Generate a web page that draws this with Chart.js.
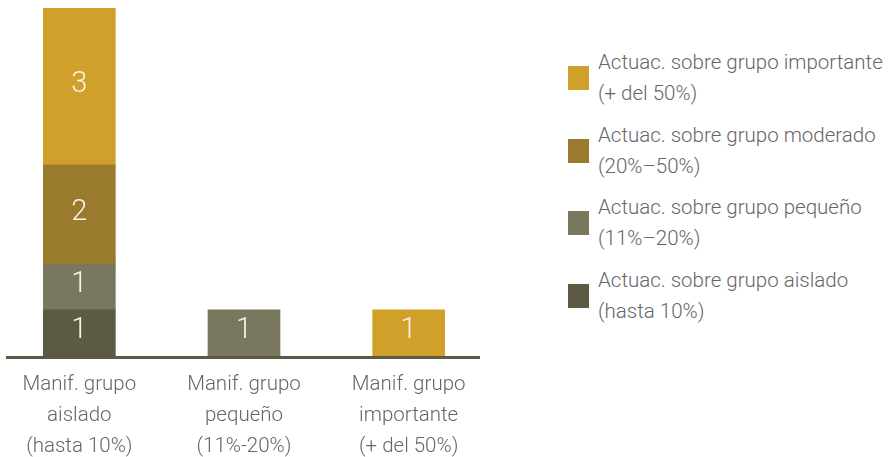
<!DOCTYPE html>
<html><head><meta charset="utf-8">
<script src="https://cdn.jsdelivr.net/npm/chart.js@4"></script>
<style>
html,body{margin:0;padding:0;background:#fff;width:888px;height:457px;overflow:hidden;position:relative;font-family:Roboto,sans-serif;}
#wrap{position:absolute;left:-3px;top:0;width:494px;height:457px;}
#legend{position:absolute;left:568px;top:54px;}
.item{position:relative;height:72.5px;}
.box{position:absolute;left:0;width:21px;height:24px;top:12px;}
.txt{position:absolute;left:30px;top:-7px;font-size:20.5px;line-height:31px;color:#666666;font-weight:300;white-space:nowrap;}
</style></head>
<body>
<div id="wrap"><canvas id="c"></canvas></div>
<div id="legend"></div>
<script>
const categories = [["Manif. grupo","aislado","(hasta 10%)"],["Manif. grupo","pequeño","(11%-20%)"],["Manif. grupo","importante","(+ del 50%)"]];
const seriesNames = [["Actuac. sobre grupo aislado","(hasta 10%)"],["Actuac. sobre grupo pequeño","(11%–20%)"],["Actuac. sobre grupo moderado","(20%–50%)"],["Actuac. sobre grupo importante","(+ del 50%)"]];
const aislado = [1, null, null];
const pequeno = [1, 1, null];
const moderado = [2.15, null, null];
const importante = [3.4, null, 1];
const colors = ["#5c5945","#7a775f","#9a7a2c","#d0a02a"];
const seriesValues = [aislado, pequeno, moderado, importante];

const labelPlugin = {
  id:'segLabels',
  afterDatasetsDraw(chart){
    const ctx = chart.ctx;
    ctx.save();
    ctx.fillStyle = '#f7f3e6';
    ctx.font = '300 29px Roboto, sans-serif';
    ctx.textAlign = 'center'; ctx.textBaseline = 'middle';
    chart.data.datasets.forEach((ds,i)=>{
      chart.getDatasetMeta(i).data.forEach((el,j)=>{
        const v = ds.data[j];
        if(v==null) return;
        const y = (el.y + el.base)/2;
        ctx.fillText(String(Math.round(v)), el.x, y-2);
      });
    });
    ctx.restore();
  }
};
const axisPlugin = {
  id:'axisLine',
  afterDatasetsDraw(chart){
    const ctx = chart.ctx, a = chart.chartArea;
    const y = chart.scales.y.getPixelForValue(0);
    ctx.save();
    ctx.fillStyle = '#5c5945';
    ctx.fillRect(a.left+9, y, (a.right-11)-(a.left+9), 3);
    ctx.restore();
  }
};

new Chart(document.getElementById('c'), {
  type:'bar',
  data:{
    labels:categories,
    datasets: seriesValues.map((d,i)=>({label:seriesNames[i].join(' '), data:d, backgroundColor:colors[i], barThickness:72, borderWidth:0}))
  },
  options:{
    responsive:true, maintainAspectRatio:false, animation:false,
    layout:{padding:{top:6,left:0,right:0,bottom:0}},
    plugins:{legend:{display:false}, tooltip:{enabled:false}},
    scales:{
      x:{stacked:true, grid:{display:false, drawTicks:false}, border:{display:false},
         ticks:{color:'#666666', font:{family:'Roboto', size:20.5, weight:300, lineHeight:'31px'}, padding:13, maxRotation:0, autoSkip:false},
         afterFit(s){ s.height = 101; }},
      y:{stacked:true, display:false, min:0, max:7.6}
    }
  },
  plugins:[labelPlugin, axisPlugin]
});

const leg = document.getElementById('legend');
for(let i=seriesNames.length-1;i>=0;i--){
  const it = document.createElement('div'); it.className='item';
  const b = document.createElement('div'); b.className='box'; b.style.background=colors[i];
  const t = document.createElement('div'); t.className='txt'; t.innerHTML = seriesNames[i].join('<br>');
  it.appendChild(b); it.appendChild(t); leg.appendChild(it);
}
</script>
</body></html>
